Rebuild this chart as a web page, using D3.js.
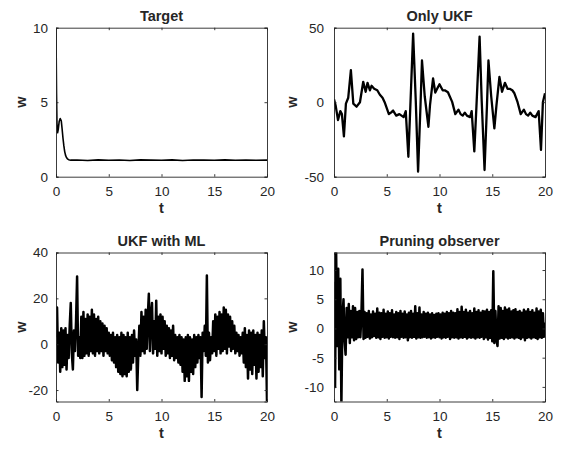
<!DOCTYPE html>
<html>
<head>
<meta charset="utf-8">
<script src="https://cdn.jsdelivr.net/npm/d3@7"></script>
<style>
body { margin: 0; background: #fff; }
text { font-family: "Liberation Sans", Arial, sans-serif; fill: #262626; }
</style>
</head>
<body>
<div id="fig"></div>
<script>
// ---- data ----
var xTicks = [0, 5, 10, 15, 20];

// Target (irregular samples)
var targT = [0, 0.02, 0.05, 0.09, 0.15, 0.22, 0.3, 0.4, 0.5, 0.58, 0.66, 0.74, 0.82, 0.9, 0.98, 1.08, 1.2, 1.4,
  2, 3, 4, 5, 6, 7, 8, 9, 10, 11, 12, 13, 14, 15, 16, 17, 18, 19, 20];
var targW = [10, 8.2, 5.6, 3.6, 2.95, 3.2, 3.7, 3.9, 3.75, 3.2, 2.6, 2.1, 1.7, 1.45, 1.3, 1.2, 1.14, 1.11,
  1.12, 1.09, 1.13, 1.1, 1.12, 1.09, 1.13, 1.11, 1.1, 1.13, 1.09, 1.12, 1.11, 1.1, 1.13, 1.1, 1.12, 1.1, 1.11];
var targTicks = [0, 5, 10];

// Only UKF (irregular samples)
var ukfT = [0, 0.15, 0.38, 0.6, 0.75, 0.94, 1.13, 1.35, 1.6, 1.83,
  2.14, 2.46, 2.77, 3.0, 3.18, 3.4, 3.56, 3.81, 4.1, 4.35,
  4.6, 4.8, 5.0, 5.2, 5.4, 5.6, 5.9, 6.2, 6.4, 6.6,
  6.8, 7.05, 7.24, 7.5, 7.75, 7.97, 8.2, 8.34, 8.6, 8.95,
  9.1, 9.39, 9.6, 9.85, 10.0, 10.3, 10.5, 10.8, 11.2, 11.5,
  11.8, 12.0, 12.2, 12.4, 12.6, 12.9, 13.05, 13.3, 13.5, 13.8,
  14.0, 14.27, 14.5, 14.64, 14.9, 15.2, 15.4, 15.68, 15.93, 16.2,
  16.45, 16.65, 16.9, 17.1, 17.4, 17.7, 18.0, 18.2, 18.4, 18.6,
  18.8, 19.1, 19.4, 19.62, 19.8, 20];
var ukfW = [2, -2, -12, -6, -8, -23, -1, 3, 21.5, -1,
  -3, 0, 13.7, 7, 13, 8, 11, 9, 8, 5,
  3, 0, -4, -8, -7, -5.6, -9, -8, -9, -10,
  -6, -36.6, -2, 46, 1, -46.6, -2, 28, 4, -16.5,
  -2, 16, 6.5, 10, 12, 8, 8, 6.7, 0.2, -8,
  -5, -8, -9, -7, -9, -10, -6, -33, -3, 44,
  1, -45.5, -2, 28, 4, -17.6, -2, 17, 7, 13,
  9, 9, 8, 6, 0, -8, -5, -8, -9, -7,
  -9, -10, -6, -32, 0, 6];
var ukfTicks = [-50, 0, 50];

// UKF with ML, one sample every 0.1 s
var mlStep = 0.1;
var mlW = [3, 16, -8, 5, -12, 7, -10, 6, -9, 7, -11, 4, -6, 8, 18, -4, -11, 6, -3, 10, 29.5, -5, 3, -6, 12,
  -6, 14, -5, 11, -4, 13, -5, 12, -3, 15, -4, 13, -5, 11, -3, 12, -4, 10, -3, 9, -5, 8, -3, 7, -4,
  5, -5, 4, -7, 5, -8, 3, -10, 4, -12, 3, -13, 5, -14, 4, -13, 3, -14, 5, -12, 3, -11, 4, -8, 6, -5, 2, -20, -4, 8,
  -5, 14, -3, 12, -4, 15, -2, 12, 22, -3, 13, 18, -4, 10, -2, 19, -5, 12, -3, 13, -4, 12, -2, 10, -5, 8, -4, 7, -6, 6,
  -5, 8, -7, 4, -6, 3, -8, 4, -9, 3, -12, 2, -16, 3, -14, 4, -16, 3, -12, 2, -13, 4, -10, 3, -8, 4, -6, 3, -23, 5,
  -3, 8, -5, 30, -8, 5, -7, 3, -4, 10, -3, 13, -5, 12, -2, 14, -4, 13, -3, 16, -2, 15, -4, 13, -1, 12, -3, 10, -2, 8,
  -4, 5, -3, 4, -5, 3, -4, 5, -8, 7, -10, 4, -15, 6, -11, 5, -13, 6, -9, 4, -15, 5, -12, 4, -10, 6, -14, 10, -6, 3,
  -25];
var mlTicks = [-20, 0, 20, 40];

// Pruning observer, one sample every 0.1 s
var prStep = 0.1;
var prW = [8, -10, 13.5, -3, 10.2, -7, 8.5, -13, 2, 5, -2, -4.5, 3.5, -1.5, 4.2, -2.5, 3, -1.5, 3.8, -2, 3.5, -1.8, 2.8, -1.5, 3, -1.5, 2.5, 10.1, -1.8, 2.8,
  -1.6, 2.6, -1.4, 3.0, -1.7, 2.4, -1.5, 2.9, -1.3, 2.5, -1.6, 3.4, -1.5, 2.7, -1.8, 2.6, -1.4, 3.2, -1.6, 2.5, -1.5, 2.9, -1.7, 2.6, -1.4, 3.1, -1.5, 2.4, -1.6, 2.8,
  -1.5, 2.6, -1.8, 3.0, -1.4, 2.5, -1.6, 2.9, -1.5, 2.4, -2.0, 2.7, -1.5, 3.0, -1.6, 2.5, -1.4, 3.8, -1.7, 2.6, -1.5, 3.6, -1.6, 2.4, -1.5, 2.8, -1.4, 2.5, -1.6, 2.7,
  -1.5, 2.4, -1.7, 2.6, -1.5, 2.3, -1.6, 2.5, -1.4, 2.6, -1.5, 2.4, -1.7, 2.7, -1.5, 2.5, -1.6, 2.8, -1.4, 2.6, -1.8, 3.0, -1.5, 2.7, -1.6, 2.6, -1.5, 3.3, -1.7, 2.8,
  -1.5, 3.7, -1.6, 2.8, -1.4, 3.2, -1.7, 2.7, -1.5, 3.0, -1.6, 2.6, -1.5, 3.4, -1.7, 2.8, -1.5, 3.1, -1.6, 2.7, -1.4, 3.0, -1.8, 2.9, -1.5, 3.2, -1.9, 2.8, -1.6, 3.1,
  -2.2, 9.8, -2.5, 3.0, -1.8, -3.0, 3.8, -1.7, 3.5, -1.6, 3.0, -1.8, 3.6, -1.5, 3.2, -1.7, 3.4, -1.6, 2.9, -1.5, 3.1, -1.7, 3.3, -1.5, 2.8, -1.6, 3.0, -1.8, 2.7, -1.5,
  3.2, -2.0, 2.9, -1.6, 3.3, -1.5, 2.8, -1.7, 3.1, -1.5, 2.7, -1.6, 3.4, -1.8, 2.9, -1.5, 3.2, -1.6, 2.6, -1.4, 1.0];
var prTicks = [-10, -5, 0, 5, 10];

// ---- layout ----
var width = 564, height = 449;
var colX = [56, 334];
var rowY = [27.7, 252.5];
var boxW = 211, boxH = 149;

var svg = d3.select("#fig").append("svg")
  .attr("width", width)
  .attr("height", height)
  .style("background-color", "white");

function drawPanel(p) {
  var x0 = colX[p.col], y0 = rowY[p.row];
  var g = svg.append("g").attr("transform", "translate(" + x0 + "," + y0 + ")");

  var x = d3.scaleLinear().domain([0, 20]).range([0, boxW]);
  var y = d3.scaleLinear().domain(p.yDomain).range([boxH, 0]);

  var clipId = "clip" + p.row + p.col;
  g.append("clipPath").attr("id", clipId)
    .append("rect").attr("width", boxW).attr("height", boxH);

  // data line
  var line = d3.line()
    .x(function(d) { return x(d[0]); })
    .y(function(d) { return y(d[1]); });
  g.append("path")
    .datum(p.data)
    .attr("clip-path", "url(#" + clipId + ")")
    .attr("d", line)
    .style("fill", "none")
    .style("stroke", "#000")
    .style("stroke-width", p.lw)
    .style("stroke-linejoin", "round");

  // axes, ticks point inwards, mirrored on top and right
  var tk = 2.5;
  var axB = g.append("g").attr("transform", "translate(0," + boxH + ")")
    .call(d3.axisBottom(x).tickValues(xTicks).tickSize(-tk).tickPadding(9.5));
  var axT = g.append("g")
    .call(d3.axisTop(x).tickValues(xTicks).tickSize(-tk).tickFormat(""));
  var axL = g.append("g")
    .call(d3.axisLeft(y).tickValues(p.yTicks).tickSize(-tk).tickPadding(p.col == 0 ? 8 : 10));
  var axR = g.append("g").attr("transform", "translate(" + boxW + ",0)")
    .call(d3.axisRight(y).tickValues(p.yTicks).tickSize(-tk).tickFormat(""));

  [axB, axT, axL, axR].forEach(function(a) {
    a.select(".domain").attr("stroke", "#262626").attr("stroke-width", 0.9);
    a.selectAll(".tick line").attr("stroke", "#262626").attr("stroke-width", 0.9);
    a.selectAll("text")
      .style("font-size", "13.5px")
      .style("font-family", "Liberation Sans, Arial, sans-serif")
      .attr("fill", "#262626");
  });
  axL.selectAll("text").text(function(d) { return d < 0 ? "-" + Math.abs(d) : d; });

  // title
  g.append("text")
    .attr("x", boxW / 2)
    .attr("y", -7)
    .attr("text-anchor", "middle")
    .style("font-size", "14.5px")
    .style("font-weight", "bold")
    .text(p.title);

  // axis labels
  g.append("text")
    .attr("x", boxW / 2)
    .attr("y", boxH + 36)
    .attr("text-anchor", "middle")
    .style("font-size", "14.5px")
    .style("font-weight", "bold")
    .text("t");
  g.append("text")
    .attr("transform", "translate(" + (p.col == 0 ? -30.5 : -37.5) + "," + (boxH / 2) + ") rotate(-90)")
    .attr("text-anchor", "middle")
    .style("font-size", "14.5px")
    .style("font-weight", "bold")
    .text("w");
}

drawPanel({
  row: 0, col: 0, title: "Target", lw: 1.6,
  yDomain: [0, 10], yTicks: targTicks,
  data: targT.map(function(t, i) { return [t, targW[i]]; })
});
drawPanel({
  row: 0, col: 1, title: "Only UKF", lw: 2.3,
  yDomain: [-50, 50], yTicks: ukfTicks,
  data: ukfT.map(function(t, i) { return [t, ukfW[i]]; })
});
drawPanel({
  row: 1, col: 0, title: "UKF with ML", lw: 2.5,
  yDomain: [-25, 40], yTicks: mlTicks,
  data: mlW.map(function(v, i) { return [i * mlStep, v]; })
});
drawPanel({
  row: 1, col: 1, title: "Pruning observer", lw: 2.5,
  yDomain: [-12.5, 13], yTicks: prTicks,
  data: prW.map(function(v, i) { return [i * prStep, v]; })
});
</script>
</body>
</html>
